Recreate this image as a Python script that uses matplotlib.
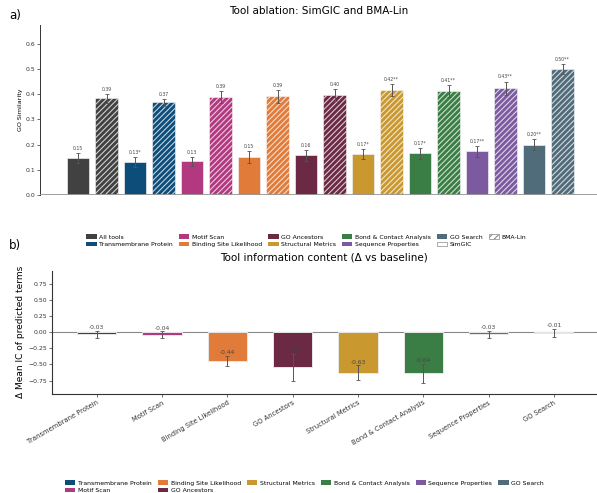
"""Tool ablation bars (SimGIC / BMA-Lin) and IC deltas per tool."""

import matplotlib

matplotlib.use("Agg")
import matplotlib.pyplot as plt
import numpy as np
from matplotlib.patches import Patch

# ---- data -------------------------------------------------------------
conditions = [
    "All tools",
    "Transmembrane Protein",
    "Motif Scan",
    "Binding Site Likelihood",
    "GO Ancestors",
    "Structural Metrics",
    "Bond & Contact Analysis",
    "Sequence Properties",
    "GO Search",
]
colors = [
    "#414141",
    "#0c4d7a",
    "#b2387f",
    "#e07b39",
    "#6b2944",
    "#c9982f",
    "#3a7d45",
    "#7b5a9f",
    "#506b7a",
]
simgic = [0.146, 0.130, 0.134, 0.151, 0.158, 0.164, 0.165, 0.173, 0.200]
simgic_err = [0.020, 0.020, 0.017, 0.022, 0.022, 0.020, 0.022, 0.022, 0.022]
simgic_lab = ["0.15", "0.13*", "0.13", "0.15", "0.16", "0.17*", "0.17*", "0.17**", "0.20**"]
bmalin = [0.384, 0.368, 0.389, 0.392, 0.398, 0.417, 0.413, 0.425, 0.501]
bmalin_err = [0.017, 0.015, 0.023, 0.025, 0.023, 0.023, 0.024, 0.026, 0.020]
bmalin_lab = ["0.39", "0.37", "0.39", "0.39", "0.40", "0.42**", "0.41**", "0.43**", "0.50**"]

tools = conditions[1:]
tool_colors = colors[1:]
ic_delta = [-0.03, -0.04, -0.44, -0.54, -0.63, -0.64, -0.03, -0.01]
ic_err = [0.055, 0.055, 0.078, 0.21, 0.115, 0.145, 0.055, 0.068]

# ---- figure -----------------------------------------------------------
plt.rcParams["hatch.linewidth"] = 0.8
fig = plt.figure(figsize=(5.97, 4.93), dpi=100)
ERR = dict(ecolor="#555555", elinewidth=0.7, capsize=1.2, capthick=0.6)

# panel a
ax = fig.add_axes([0.067, 0.6045, 0.933, 0.3445])
x = np.arange(len(conditions))
w = 0.4
ax.bar(x - 0.25, simgic, w, yerr=simgic_err, color=colors,
       edgecolor="#eeeeee", linewidth=0.5, error_kw=ERR)
ax.bar(x + 0.25, bmalin, w, yerr=bmalin_err, color=colors,
       edgecolor=(1, 1, 1, 0.75), linewidth=0.5, hatch="//////", error_kw=ERR)
for xi, v, e, t in zip(x - 0.25, simgic, simgic_err, simgic_lab):
    ax.text(xi, v + e + 0.008, t, ha="center", va="bottom", fontsize=3.3, color="#444444")
for xi, v, e, t in zip(x + 0.25, bmalin, bmalin_err, bmalin_lab):
    ax.text(xi, v + e + 0.008, t, ha="center", va="bottom", fontsize=3.3, color="#444444")
ax.axhline(0, color="#999999", linewidth=1.3, zorder=3)
ax.set_xlim(-0.917, 8.855)
ax.set_ylim(0, 0.675)
ax.set_xticks([])
ax.set_yticks(np.arange(0, 0.61, 0.1))
ax.tick_params(axis="y", labelsize=4.4, length=2, width=0.5, pad=1.5, colors="#333333")
ax.set_ylabel("GO Similarity", fontsize=4.6, labelpad=2)
ax.set_title("Tool ablation: SimGIC and BMA-Lin", fontsize=7.5, pad=8)
for s in ("top", "right", "bottom"):
    ax.spines[s].set_visible(False)
ax.spines["left"].set_linewidth(0.7)
ax.spines["left"].set_color("#333333")
fig.text(0.015, 0.968, "a)", fontsize=8.5, va="center")

handles = [Patch(facecolor=c, edgecolor="none", label=n) for c, n in zip(colors, conditions)]
handles.append(Patch(facecolor="white", edgecolor="#888888", linewidth=0.5, label="SimGIC"))
handles.append(Patch(facecolor="white", edgecolor="#888888", linewidth=0.5, hatch="/////",
                     label="BMA-Lin"))
fig.legend(handles=handles, ncol=6, loc="center", bbox_to_anchor=(0.513, 0.512),
           frameon=False, fontsize=4.4, handlelength=1.7, handleheight=0.8,
           handletextpad=0.4, columnspacing=1.0, labelspacing=0.35)

# panel b
bx = fig.add_axes([0.0866, 0.2008, 0.9134, 0.2503])
xb = np.arange(len(tools))
bx.bar(xb, ic_delta, 0.6, yerr=ic_err, color=tool_colors,
       edgecolor="#e8e8e8", linewidth=0.7, error_kw=ERR)
for xi, v, e in zip(xb, ic_delta, ic_err):
    bx.text(xi, v + e + 0.01, f"{v:.2f}", ha="center", va="bottom", fontsize=4.3, color="#444444")
bx.axhline(0, color="#888888", linewidth=0.8, zorder=0)
bx.set_xlim(-0.69, 7.66)
bx.set_ylim(-0.96, 0.96)
bx.set_yticks([-0.75, -0.5, -0.25, 0, 0.25, 0.5, 0.75])
bx.set_yticklabels(["\u22120.75", "\u22120.50", "\u22120.25", "0.00", "0.25", "0.50", "0.75"])
bx.set_xticks(xb)
bx.set_xticklabels(tools, rotation=30, ha="right", rotation_mode="anchor")
bx.tick_params(axis="y", labelsize=4.4, length=2, width=0.5, pad=1.5, colors="#333333")
bx.tick_params(axis="x", labelsize=4.9, length=2, width=0.5, pad=2, colors="#333333")
bx.set_ylabel("\u0394 Mean IC of predicted terms", fontsize=6.5, labelpad=2)
bx.set_title("Tool information content (\u0394 vs baseline)", fontsize=7.5, pad=7)
for s in ("top", "right"):
    bx.spines[s].set_visible(False)
for s in ("left", "bottom"):
    bx.spines[s].set_linewidth(0.8)
    bx.spines[s].set_color("#333333")
fig.text(0.015, 0.503, "b)", fontsize=8.5, va="center")

handles_b = [Patch(facecolor=c, edgecolor="none", label=n) for c, n in zip(tool_colors, tools)]
fig.legend(handles=handles_b, ncol=6, loc="center", bbox_to_anchor=(0.51, 0.013),
           frameon=False, fontsize=4.4, handlelength=1.7, handleheight=0.8,
           handletextpad=0.4, columnspacing=1.0, labelspacing=0.35)

fig.savefig("out.png", dpi=100)
